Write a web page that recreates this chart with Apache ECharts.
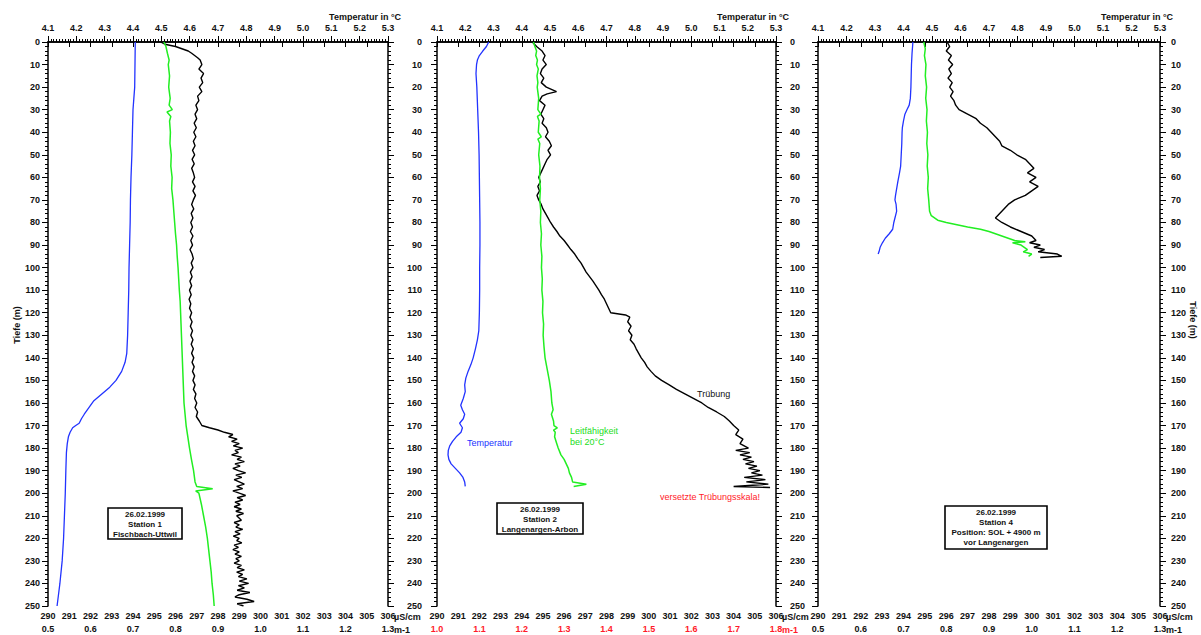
<!DOCTYPE html>
<html><head><meta charset="utf-8">
<script src="https://cdn.jsdelivr.net/npm/echarts@6/dist/echarts.min.js"></script>
<style>html,body{margin:0;padding:0;background:#fff}#c{width:1201px;height:635px}</style>
</head><body><div id="c"></div><script>
// ---------- data: [depth (m), value] ----------
const st1Temp = [[0,4.408],[10,4.407],[20,4.406],[25,4.403],[30,4.400],[40,4.398],[50,4.396],[60,4.393],[70,4.391],[80,4.390],[90,4.388],[100,4.386],[110,4.385],[120,4.383],[130,4.381],[138,4.378],[142,4.372],[146,4.360],[150,4.340],[153,4.318],[156,4.290],[159,4.262],[162,4.245],[165,4.228],[167,4.218],[169,4.210],[170,4.198],[171,4.187],[173,4.178],[175,4.172],[178,4.168],[182,4.165],[190,4.163],[200,4.161],[210,4.158],[220,4.155],[230,4.150],[240,4.142],[245,4.137],[250,4.132]];
const st1Cond = [[0,295.45],[2,295.55],[5,295.62],[8,295.70],[10,295.66],[15,295.72],[20,295.68],[25,295.75],[28,295.70],[30,295.85],[31,295.60],[33,295.78],[35,295.72],[40,295.76],[45,295.74],[50,295.80],[55,295.78],[60,295.84],[65,295.82],[70,295.88],[75,295.92],[80,295.96],[85,296.00],[90,296.05],[95,296.08],[100,296.12],[105,296.15],[110,296.18],[115,296.22],[120,296.24],[125,296.26],[130,296.28],[135,296.30],[140,296.32],[145,296.34],[150,296.36],[155,296.38],[160,296.40],[165,296.45],[170,296.50],[175,296.58],[180,296.66],[185,296.75],[190,296.85],[195,296.92],[197,297.00],[198,297.75],[199,296.95],[200,297.10],[205,297.22],[210,297.32],[215,297.42],[220,297.50],[225,297.56],[230,297.62],[235,297.68],[240,297.72],[245,297.78],[250,297.82]];
const st1Turb = [[0,0.765],[1,0.775],[2,0.800],[3,0.815],[4,0.830],[5,0.838],[6,0.845],[7,0.852],[8,0.858],[10,0.862],[12,0.855],[14,0.866],[16,0.860],[18,0.864],[20,0.856],[22,0.862],[24,0.852],[26,0.855],[28,0.848],[30,0.852],[32,0.846],[34,0.850],[36,0.844],[38,0.849],[40,0.843],[42,0.848],[44,0.842],[46,0.846],[48,0.840],[50,0.845],[52,0.839],[54,0.844],[56,0.838],[58,0.842],[60,0.845],[62,0.840],[64,0.846],[66,0.841],[68,0.847],[70,0.842],[72,0.838],[74,0.843],[76,0.837],[78,0.841],[80,0.836],[82,0.840],[84,0.835],[86,0.841],[88,0.836],[90,0.840],[92,0.834],[94,0.839],[96,0.842],[98,0.837],[100,0.841],[102,0.835],[104,0.839],[106,0.834],[108,0.838],[110,0.833],[112,0.837],[114,0.832],[116,0.836],[118,0.833],[120,0.838],[122,0.834],[124,0.839],[126,0.835],[128,0.840],[130,0.836],[132,0.841],[134,0.837],[136,0.842],[138,0.838],[140,0.843],[142,0.839],[144,0.844],[146,0.840],[148,0.845],[150,0.841],[152,0.846],[154,0.842],[156,0.848],[158,0.845],[160,0.850],[162,0.846],[164,0.852],[166,0.849],[168,0.856],[170,0.862],[171,0.880],[172,0.900],[173,0.915],[174,0.935],[175,0.925],[176,0.945],[177,0.932],[178,0.950],[179,0.936],[180,0.958],[181,0.940],[182,0.948],[183,0.932],[184,0.955],[185,0.945],[186,0.962],[187,0.940],[188,0.952],[189,0.935],[190,0.948],[191,0.965],[192,0.942],[193,0.956],[194,0.938],[195,0.950],[196,0.962],[197,0.944],[198,0.958],[199,0.935],[200,0.950],[201,0.965],[202,0.945],[203,0.958],[204,0.940],[205,0.952],[206,0.938],[207,0.955],[208,0.942],[209,0.960],[210,0.944],[212,0.955],[213,0.938],[214,0.950],[215,0.942],[216,0.958],[217,0.940],[218,0.952],[219,0.936],[220,0.950],[221,0.944],[222,0.956],[223,0.938],[224,0.948],[225,0.935],[226,0.950],[227,0.940],[228,0.955],[229,0.942],[230,0.950],[231,0.938],[232,0.955],[233,0.945],[234,0.962],[235,0.944],[236,0.958],[237,0.948],[238,0.968],[239,0.950],[240,0.972],[241,0.948],[242,0.962],[243,0.945],[244,0.975],[245,0.950],[246,0.940],[247,0.968],[248,0.985],[249,0.945],[250,0.960]];

const st2Temp = [[0,4.283],[2,4.275],[4,4.262],[6,4.250],[8,4.243],[10,4.240],[14,4.238],[20,4.241],[30,4.244],[40,4.247],[50,4.249],[60,4.250],[70,4.251],[80,4.252],[90,4.252],[100,4.251],[110,4.251],[120,4.250],[128,4.248],[132,4.243],[136,4.236],[140,4.228],[143,4.220],[146,4.210],[149,4.202],[152,4.198],[155,4.200],[158,4.193],[161,4.184],[163,4.190],[165,4.198],[167,4.193],[169,4.180],[171,4.190],[173,4.185],[175,4.168],[177,4.155],[179,4.145],[181,4.140],[183,4.139],[185,4.142],[187,4.150],[189,4.165],[191,4.180],[193,4.192],[195,4.198],[197,4.200]];
const st2Cond = [[0,294.55],[2,294.62],[4,294.70],[6,294.66],[8,294.74],[10,294.70],[12,294.78],[15,294.72],[18,294.76],[20,294.73],[25,294.80],[30,294.76],[32,294.90],[33,294.74],[35,294.82],[40,294.78],[42,294.92],[43,294.76],[45,294.85],[50,294.80],[55,294.86],[60,294.84],[65,294.88],[70,294.85],[75,294.90],[80,294.88],[85,294.93],[90,294.90],[95,294.95],[100,294.93],[105,294.97],[110,294.95],[115,295.00],[120,294.98],[125,295.03],[130,295.01],[135,295.05],[140,295.10],[145,295.20],[150,295.30],[155,295.38],[160,295.42],[163,295.48],[165,295.40],[168,295.50],[170,295.52],[171,295.68],[172,295.50],[173,295.58],[175,295.55],[178,295.65],[180,295.72],[183,295.85],[185,296.00],[187,296.10],[189,296.20],[191,296.25],[193,296.35],[195,296.40],[196,297.05],[197,296.45]];
const st2Turb = [[0,1.225],[2,1.235],[4,1.248],[6,1.255],[8,1.250],[10,1.258],[12,1.248],[14,1.244],[16,1.252],[18,1.246],[20,1.258],[22,1.282],[23,1.260],[24,1.248],[26,1.242],[28,1.255],[30,1.250],[32,1.245],[34,1.252],[36,1.248],[38,1.258],[40,1.262],[42,1.256],[44,1.265],[46,1.270],[48,1.262],[50,1.268],[52,1.260],[54,1.255],[56,1.250],[58,1.245],[60,1.240],[62,1.244],[64,1.238],[66,1.242],[68,1.236],[70,1.240],[72,1.246],[74,1.250],[76,1.256],[78,1.262],[80,1.268],[82,1.275],[84,1.283],[86,1.290],[88,1.300],[90,1.308],[92,1.316],[94,1.325],[96,1.332],[98,1.340],[100,1.346],[102,1.352],[104,1.360],[106,1.368],[108,1.375],[110,1.382],[112,1.388],[114,1.395],[116,1.400],[118,1.405],[120,1.410],[121,1.445],[122,1.455],[124,1.450],[126,1.458],[128,1.452],[130,1.460],[132,1.456],[134,1.465],[136,1.470],[138,1.476],[140,1.482],[142,1.490],[144,1.496],[146,1.505],[148,1.515],[150,1.530],[152,1.548],[154,1.565],[156,1.585],[158,1.605],[160,1.625],[162,1.640],[164,1.660],[166,1.678],[168,1.690],[170,1.700],[172,1.712],[174,1.705],[176,1.722],[178,1.715],[180,1.735],[181,1.705],[182,1.738],[183,1.715],[184,1.742],[185,1.722],[186,1.748],[187,1.728],[188,1.755],[189,1.735],[190,1.762],[191,1.742],[192,1.768],[193,1.725],[194,1.775],[195,1.730],[196,1.782],[197,1.700],[197.5,1.786]];

const st4Temp = [[0,4.433],[5,4.430],[10,4.428],[15,4.427],[20,4.426],[25,4.424],[28,4.420],[30,4.412],[32,4.405],[35,4.400],[38,4.396],[40,4.395],[45,4.394],[50,4.392],[55,4.390],[58,4.386],[62,4.380],[65,4.376],[68,4.372],[70,4.370],[72,4.374],[75,4.376],[78,4.370],[80,4.366],[83,4.362],[85,4.350],[87,4.336],[89,4.326],[91,4.318],[93,4.314],[94,4.311]];
const st4Cond = [[0,294.95],[3,295.02],[6,294.98],[10,295.05],[15,295.02],[20,295.08],[25,295.04],[30,295.10],[35,295.07],[40,295.12],[45,295.09],[50,295.14],[55,295.11],[60,295.16],[65,295.13],[70,295.18],[75,295.22],[77,295.30],[79,295.60],[80,296.00],[81,296.50],[82,297.00],[83,297.60],[84,298.00],[85,298.30],[86,298.60],[87,298.90],[88,299.20],[88.5,299.70],[89,299.10],[90,299.50],[91,299.65],[92,299.80],[93,299.60],[94,300.00],[95,299.85]];
const st4Turb = [[0,0.802],[2,0.808],[4,0.800],[6,0.812],[8,0.805],[10,0.815],[12,0.806],[14,0.812],[16,0.804],[18,0.814],[20,0.808],[22,0.816],[24,0.810],[26,0.818],[28,0.822],[30,0.830],[32,0.850],[34,0.870],[36,0.880],[38,0.895],[40,0.905],[42,0.915],[44,0.925],[46,0.930],[48,0.950],[50,0.965],[52,0.985],[54,0.995],[56,1.005],[58,0.990],[60,1.010],[62,0.995],[64,1.015],[66,1.000],[68,0.985],[70,0.960],[72,0.945],[74,0.935],[76,0.925],[78,0.915],[80,0.930],[82,0.950],[84,0.975],[86,1.000],[88,1.010],[89,0.995],[90,1.020],[91,1.005],[92,1.030],[93,1.015],[94,1.060],[95,1.070],[95.5,1.020]];

// ---------- axis ranges ----------
const tempRange = [4.1, 5.3];
const condRange = [290, 306];
const turbRanges = [[0.5, 1.3], [1.0, 1.8], [0.5, 1.3]];
const depthRange = [0, 250];
const stationLabels = [
  ['26.02.1999', 'Station 1', 'Fischbach-Uttwil'],
  ['26.02.1999', 'Station 2', 'Langenargen-Arbon'],
  ['26.02.1999', 'Station 4', 'Position: SOL + 4900 m', 'vor Langenargen']
];
const panelData = [[st1Temp, st1Cond, st1Turb], [st2Temp, st2Cond, st2Turb], [st4Temp, st4Cond, st4Turb]];

// ---------- layout ----------
const FONT = 'Liberation Sans, Arial, sans-serif';
const grids = [
  {left: 48, top: 42, width: 340, height: 564},
  {left: 437, top: 42, width: 339, height: 564},
  {left: 818, top: 42, width: 342, height: 564}
];
const lbl = (extra) => Object.assign({fontFamily: FONT, fontSize: 9, fontWeight: 'bold', color: '#111'}, extra);
const axLine = {show: true, lineStyle: {color: '#000', width: 1.5}};

const xAxes = [], yAxes = [], series = [];
grids.forEach((g, i) => {
  xAxes.push({gridIndex: i, type: 'value', position: 'top', min: tempRange[0], max: tempRange[1], interval: 0.1,
    axisLine: axLine, splitLine: {show: false},
    axisTick: {show: true, length: 6, lineStyle: {color: '#000', width: 1}},
    minorTick: {show: true, splitNumber: 10, length: 3, lineStyle: {color: '#000', width: 1}},
    axisLabel: lbl({margin: 10, formatter: v => v.toFixed(1)})});
  xAxes.push({gridIndex: i, type: 'value', position: 'bottom', min: condRange[0], max: condRange[1], interval: 1,
    axisLine: axLine, splitLine: {show: false},
    axisTick: {show: true, length: 5, lineStyle: {color: '#000', width: 1}},
    axisLabel: lbl({margin: 5, formatter: v => String(Math.round(v))})});
  xAxes.push({gridIndex: i, type: 'value', position: 'bottom', offset: 13, min: turbRanges[i][0], max: turbRanges[i][1], interval: 0.1,
    axisLine: {show: false}, axisTick: {show: false}, splitLine: {show: false},
    axisLabel: lbl({margin: 5, color: i === 1 ? '#ff1a2a' : '#111', formatter: v => v.toFixed(1)})});
  const yCommon = {gridIndex: i, type: 'value', inverse: true, min: depthRange[0], max: depthRange[1], interval: 10,
    axisLine: axLine, splitLine: {show: false},
    axisTick: {show: true, length: 6, lineStyle: {color: '#000', width: 1}},
    minorTick: {show: true, splitNumber: 5, length: 3, lineStyle: {color: '#000', width: 1}}};
  yAxes.push(Object.assign({}, yCommon, {position: 'left',
    axisLabel: lbl({show: i < 2, margin: i === 0 ? 8 : 15})}));
  yAxes.push(Object.assign({}, yCommon, {position: 'right',
    axisLabel: lbl({show: i > 0, margin: i === 1 ? 14 : 11})}));
  const [tmp, cond, turb] = panelData[i];
  const mk = (arr, xi, color, w) => ({type: 'line', xAxisIndex: 3 * i + xi, yAxisIndex: 2 * i,
    data: arr.map(p => [p[1], p[0]]), showSymbol: false, silent: true,
    lineStyle: {color: color, width: w}});
  series.push(mk(turb, 2, '#000000', 1.4));
  series.push(mk(cond, 1, '#22ee22', 1.5));
  series.push(mk(tmp, 0, '#2233ff', 1.3));
});

// ---------- graphics (titles, units, annotations, station boxes) ----------
const gfx = [];
const txt = (x, y, text, opt) => Object.assign({type: 'text', x: x, y: y, silent: true,
  style: Object.assign({text: text, fill: '#111', font: 'bold 9px ' + FONT, align: 'left', verticalAlign: 'middle'}, (opt && opt.style) || {})},
  opt && opt.rotation !== undefined ? {rotation: opt.rotation} : {});
grids.forEach((g, i) => {
  const r = g.left + g.width;
  gfx.push(txt(r + 13, 17, 'Temperatur in °C', {style: {align: 'right'}}));
  gfx.push(txt(r + 6, 617, 'µS/cm'));
  gfx.push(txt(r + 6, 630, 'm-1', {style: {fill: i === 1 ? '#ff1a2a' : '#111'}}));
});
gfx.push(txt(17, 325, 'Tiefe (m)', {rotation: Math.PI / 2, style: {align: 'center'}}));
gfx.push(txt(1193, 320, 'Tiefe (m)', {rotation: -Math.PI / 2, style: {align: 'center'}}));
gfx.push(txt(697, 394, 'Trübung', {style: {font: '9px ' + FONT, fill: '#111'}}));
gfx.push(txt(570, 431, 'Leitfähigkeit', {style: {font: '9px ' + FONT, fill: '#22dd22'}}));
gfx.push(txt(570, 442, 'bei 20°C', {style: {font: '9px ' + FONT, fill: '#22dd22'}}));
gfx.push(txt(467, 443, 'Temperatur', {style: {font: '9px ' + FONT, fill: '#2233ff'}}));
gfx.push(txt(710, 497, 'versetzte Trübungsskala!', {style: {font: '9px ' + FONT, fill: '#ff1a2a', align: 'center'}}));
const boxes = [{x: 108, y: 508, w: 74, h: 31}, {x: 497, y: 503, w: 86, h: 31}, {x: 945, y: 506, w: 102, h: 43}];
boxes.forEach((b, i) => {
  gfx.push({type: 'rect', silent: true, shape: {x: b.x, y: b.y, width: b.w, height: b.h},
    style: {fill: '#fff', stroke: '#000', lineWidth: 1.6}});
  stationLabels[i].forEach((s, k) => {
    gfx.push(txt(b.x + b.w / 2, b.y + 6 + k * 10, s, {style: {align: 'center', font: 'bold 8px ' + FONT}}));
  });
});

const chart = echarts.init(document.getElementById('c'), null, {renderer: 'svg'});
chart.setOption({
  animation: false,
  backgroundColor: '#fff',
  grid: grids.map(g => Object.assign({containLabel: false}, g)),
  xAxis: xAxes,
  yAxis: yAxes,
  series: series,
  graphic: {elements: gfx}
});
</script></body></html>
